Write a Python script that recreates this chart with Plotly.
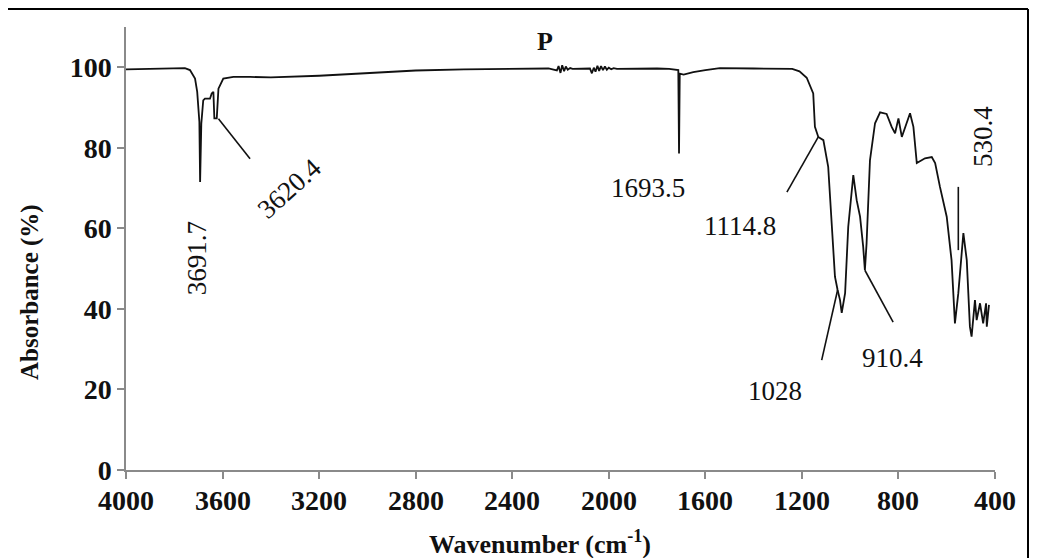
import plotly.graph_objects as go

# ---------------- data ----------------
wavenumber = [4000, 3900, 3800, 3756, 3735, 3714, 3705, 3696, 3693, 3688, 3680, 3673, 3652, 3645,
              3638, 3634, 3624, 3617, 3597, 3555, 3486, 3400, 3200, 3000, 2800, 2600, 2400, 2250,
              2215, 2208, 2200, 2193, 2185, 2178, 2170, 2160, 2150, 2120,
              2078, 2070, 2062, 2055, 2047, 2040, 2032, 2024, 2016, 2008, 2000, 1990, 1980, 1966,
              1900, 1800, 1750, 1712, 1709, 1706, 1690, 1650, 1600, 1540, 1400, 1300, 1240, 1210,
              1180, 1153, 1146, 1132, 1111, 1091, 1077, 1063, 1052, 1042, 1035, 1021, 1008, 987,
              973, 959, 946, 939, 932, 918, 897, 876, 849, 828, 814, 800, 786, 773, 752, 738, 724,
              704, 690, 662, 648, 628, 600, 580, 566, 552, 531, 517, 504, 497, 483, 476, 462, 449,
              437, 434, 425]
absorbance = [99.5, 99.6, 99.6, 99.8, 99.3, 97.2, 93.9, 86.4, 71.5, 86.0, 91.8, 92.2, 92.2, 93.5,
              93.9, 87.3, 87.3, 94.7, 97.2, 97.6, 97.6, 97.5, 97.9, 98.6, 99.2, 99.5, 99.7, 99.7,
              99.2, 100.3, 98.6, 100.5, 99.0, 100.2, 99.4, 99.8, 99.6, 99.7,
              99.7, 98.5, 99.9, 98.9, 100.4, 99.1, 100.3, 99.3, 100.2, 99.4, 99.9, 99.5, 99.8, 99.6,
              99.7, 99.7, 99.6, 99.3, 78.6, 98.4, 98.2, 98.8, 99.3, 99.8, 99.7, 99.7, 99.6, 99.0,
              97.4, 93.5, 85.2, 82.7, 81.9, 75.3, 60.4, 48.0, 44.7, 42.2, 39.0, 43.9, 60.4, 73.2,
              67.0, 62.9, 55.4, 49.6, 56.3, 76.9, 86.1, 88.8, 88.4, 85.2, 83.6, 87.3, 82.7, 84.9,
              88.6, 85.2, 76.2, 76.9, 77.4, 77.7, 76.2, 70.3, 62.9, 52.1, 36.4, 43.9, 58.8, 52.1,
              35.6, 33.1, 42.2, 37.2, 41.4, 36.4, 41.4, 35.6, 41.0]

x_ticks = [4000, 3600, 3200, 2800, 2400, 2000, 1600, 1200, 800, 400]
y_ticks = [0, 20, 40, 60, 80, 100]

peak_labels = ["3691.7", "3620.4", "1693.5", "1114.8", "1028", "910.4", "530.4"]

# label placement (x, y, angle) and leader lines (x0, y0, x1, y1) -- layout only
label_pos = [(3706, 54.6, -90), (3321, 72.0, -42), (1837, 72.0, 0), (1456, 62.6, 0),
             (1311, 21.6, 0), (823, 29.8, 0), (450, 84.9, -90)]
leaders = [(3617, 87.2, 3486, 77.3), (1132, 82.7, 1262, 69.0), (1052, 44.7, 1118, 27.3),
           (939, 49.6, 822, 36.7), (552, 70.3, 552, 54.6)]

# ---------------- figure geometry ----------------
SERIF = "Liberation Serif, Times New Roman, serif"
AXIS_COLOR = "#8a8a8a"
OFF = 8                      # default page body margin
W, H = 1037 - OFF, 558 - OFF
L, T = 126 - OFF, 27 - OFF   # plot area left/top (figure px)
PR, PB = 995 - OFF, 470 - OFF
R, B = W - PR, H - PB
pw, ph = PR - L, PB - T

def pxp(xpage):
    return (xpage - OFF - L) / pw

def pyp(ypage):
    return (PB - (ypage - OFF)) / ph

fig = go.Figure()
fig.add_trace(go.Scatter(x=wavenumber, y=absorbance, mode="lines",
                         line=dict(color="#111111", width=1.8), showlegend=False,
                         hoverinfo="skip"))

for text, (lx, ly, ang) in zip(peak_labels, label_pos):
    fig.add_annotation(x=lx, y=ly - 2.0, xref="x", yref="y", text=text, showarrow=False,
                       textangle=ang, xanchor="center", yanchor="middle",
                       font=dict(family=SERIF, size=27, color="#111111"))

for (x0, y0, x1, y1) in leaders:
    fig.add_shape(type="line", xref="x", yref="y", x0=x0, y0=y0, x1=x1, y1=y1,
                  line=dict(color="#111111", width=1.6))

fig.add_annotation(x=2264, y=106.3, xref="x", yref="y", text="<b>P</b>", showarrow=False,
                   xanchor="center", yanchor="middle",
                   font=dict(family=SERIF, size=26, color="#111111"))

# x tick labels drawn as text just below the axis
for v in x_ticks:
    fig.add_annotation(x=v, y=pyp(500), xref="x", yref="paper", text=f"<b>{v}</b>",
                       showarrow=False, xanchor="center", yanchor="middle",
                       font=dict(family=SERIF, size=28, color="#111111"))

# axis titles
fig.add_annotation(x=pxp(30), y=pyp(292), xref="paper", yref="paper", text="<b>Absorbance (%)</b>",
                   textangle=-90, showarrow=False, xanchor="center", yanchor="middle",
                   font=dict(family=SERIF, size=25, color="#111111"))
fig.add_annotation(x=pxp(540), y=pyp(542), xref="paper", yref="paper",
                   text="<b>Wavenumber (cm<sup>-1</sup>)</b>", showarrow=False,
                   xanchor="center", yanchor="middle",
                   font=dict(family=SERIF, size=26, color="#111111"))

# outer frame (top and right edges)
fig.add_shape(type="line", xref="paper", yref="paper", x0=pxp(0), y0=pyp(OFF + 1), x1=pxp(1028),
              y1=pyp(OFF + 1), line=dict(color="#000000", width=2))
fig.add_shape(type="line", xref="paper", yref="paper", x0=pxp(1028), y0=pyp(OFF + 1), x1=pxp(1028),
              y1=pyp(H + OFF), line=dict(color="#000000", width=2))

fig.update_xaxes(range=[4000, 400], tickvals=x_ticks, showticklabels=False,
                 showgrid=False, zeroline=False, showline=True, linecolor=AXIS_COLOR, linewidth=1.5,
                 ticks="outside", ticklen=7, tickcolor=AXIS_COLOR, tickwidth=1.5)
fig.update_yaxes(range=[0, 110], tickvals=y_ticks, ticktext=[f"<b>{v}</b>" for v in y_ticks],
                 showgrid=False, zeroline=False, showline=True, linecolor=AXIS_COLOR, linewidth=1.5,
                 ticks="outside", ticklen=7, tickcolor=AXIS_COLOR, tickwidth=1.5,
                 tickfont=dict(family=SERIF, size=28, color="#111111"))

fig.update_layout(width=W, height=H, margin=dict(l=L, r=R, t=T, b=B, autoexpand=False),
                  paper_bgcolor="white", plot_bgcolor="white")

fig.write_html("out.html")
